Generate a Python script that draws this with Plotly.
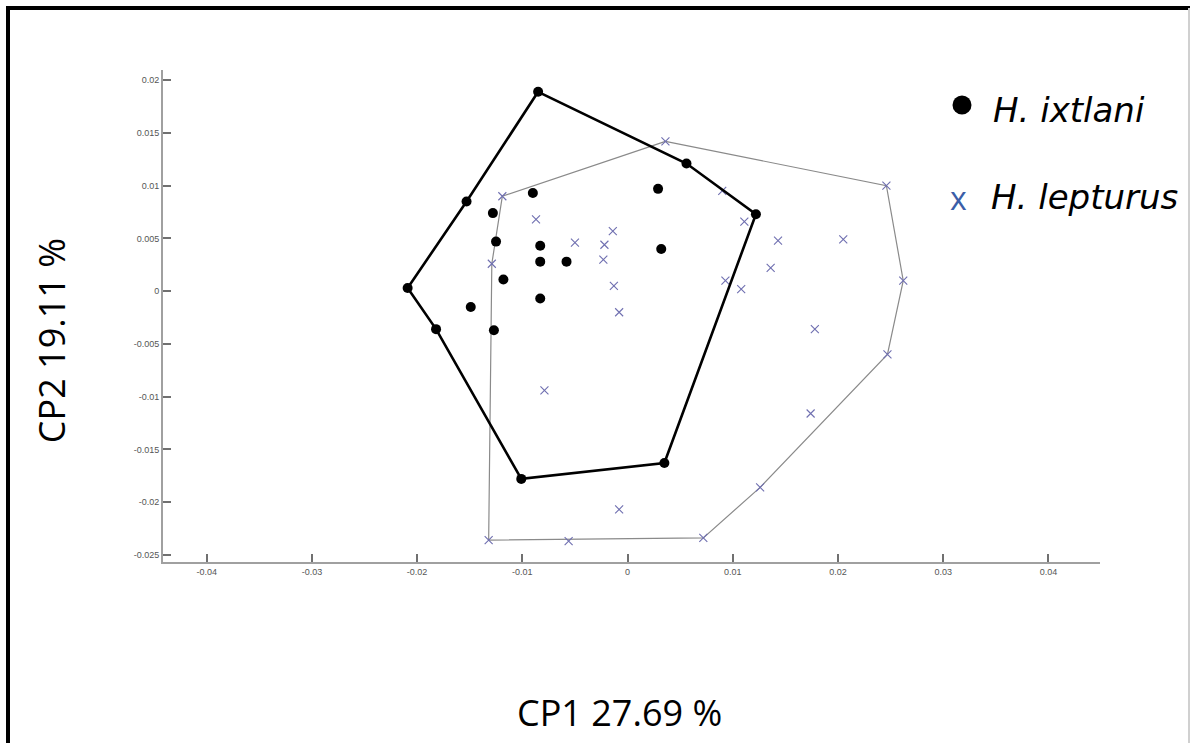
import plotly.graph_objects as go

# H. ixtlani points (CP1, CP2)
ixt_x = [-0.0085, 0.0056, 0.0122, -0.0153, -0.0209, -0.0182, -0.0101, 0.0035,
         -0.0090, 0.0029, -0.0128, -0.0125, -0.0083, -0.0083, -0.0058, 0.0032,
         -0.0118, -0.0083, -0.0149, -0.0127]
ixt_y = [0.0189, 0.0121, 0.0073, 0.0085, 0.0003, -0.0036, -0.0178, -0.0163,
         0.0093, 0.0097, 0.0074, 0.0047, 0.0043, 0.0028, 0.0028, 0.0040,
         0.0011, -0.0007, -0.0015, -0.0037]
# convex hull of H. ixtlani
ixt_hull_x = [-0.0085, 0.0056, 0.0122, 0.0035, -0.0101, -0.0182, -0.0209, -0.0153, -0.0085]
ixt_hull_y = [0.0189, 0.0121, 0.0073, -0.0163, -0.0178, -0.0036, 0.0003, 0.0085, 0.0189]

# H. lepturus points
lep_x = [0.0036, -0.0119, -0.0087, -0.0014, -0.0050, -0.0022, -0.0023, -0.0129,
         -0.0013, -0.0008, 0.0246, 0.0090, 0.0111, 0.0143, 0.0205, 0.0136,
         0.0093, 0.0108, 0.0262, 0.0178, 0.0247, 0.0174, 0.0126, 0.0072,
         -0.0079, -0.0008, -0.0132, -0.0056]
lep_y = [0.0142, 0.0090, 0.0068, 0.0057, 0.0046, 0.0044, 0.0030, 0.0026,
         0.0005, -0.0020, 0.0100, 0.0095, 0.0066, 0.0048, 0.0049, 0.0022,
         0.0010, 0.0002, 0.0010, -0.0036, -0.0060, -0.0116, -0.0186, -0.0234,
         -0.0094, -0.0207, -0.0236, -0.0237]
# convex hull of H. lepturus
lep_hull_x = [0.0036, 0.0246, 0.0262, 0.0247, 0.0126, 0.0072, -0.0132, -0.0129, -0.0119, 0.0036]
lep_hull_y = [0.0142, 0.0100, 0.0010, -0.0060, -0.0186, -0.0234, -0.0236, 0.0026, 0.0090, 0.0142]

x_ticks = [-0.04, -0.03, -0.02, -0.01, 0, 0.01, 0.02, 0.03, 0.04]
x_labels = ["-0.04", "-0.03", "-0.02", "-0.01", "0", "0.01", "0.02", "0.03", "0.04"]
y_ticks = [-0.025, -0.02, -0.015, -0.01, -0.005, 0, 0.005, 0.01, 0.015, 0.02]
y_labels = ["-0.025", "-0.02", "-0.015", "-0.01", "-0.005", "0", "0.005", "0.01", "0.015", "0.02"]

series_names = ["H. ixtlani", "H. lepturus"]
x_title = "CP1 27.69 %"
y_title = "CP2 19.11 %"

fig = go.Figure()
fig.add_trace(go.Scatter(x=lep_hull_x, y=lep_hull_y, mode="lines",
                         line=dict(color="#8a8a8a", width=1.2), showlegend=False, hoverinfo="skip"))
fig.add_trace(go.Scatter(x=lep_x, y=lep_y, mode="markers", name=series_names[1],
                         marker=dict(symbol="x-thin", size=8, line=dict(color="#6f6fb0", width=1.1)),
                         showlegend=False))
fig.add_trace(go.Scatter(x=ixt_hull_x, y=ixt_hull_y, mode="lines",
                         line=dict(color="black", width=2.6), showlegend=False, hoverinfo="skip"))
fig.add_trace(go.Scatter(x=ixt_x, y=ixt_y, mode="markers", name=series_names[0],
                         marker=dict(symbol="circle", size=10, color="black"),
                         showlegend=False))

axis_common = dict(showgrid=False, zeroline=False, showline=True, linecolor="#a0a0a0",
                   linewidth=2, ticks="inside", ticklen=8, tickwidth=1.5, tickcolor="#707070",
                   tickfont=dict(family="Liberation Sans, Arial", size=9, color="#555555"))

fig.update_layout(
    width=1190, height=743,
    paper_bgcolor="white", plot_bgcolor="white",
    margin=dict(l=163, r=90, t=70, b=181),
    xaxis=dict(range=[-0.04415, 0.0449], tickvals=x_ticks, ticktext=x_labels, **axis_common),
    yaxis=dict(range=[-0.02568, 0.02097], tickvals=y_ticks, ticktext=y_labels, **axis_common),
    showlegend=False,
)

title_font = dict(family="Open Sans", size=36, color="black")
fig.add_annotation(text=x_title, xref="paper", yref="paper", x=(619 - 163) / 937,
                   y=(561.7 - 712) / 491.7, xanchor="center", yanchor="middle",
                   showarrow=False, font=title_font)
fig.add_annotation(text=y_title, xref="paper", yref="paper", x=(51 - 163) / 937,
                   y=(561.7 - 341) / 491.7, xanchor="center", yanchor="middle",
                   textangle=-90, showarrow=False, font=title_font)

legend_font = dict(family="DejaVu Sans", size=34, color="black")
fig.add_annotation(text="<i>" + series_names[0] + "</i>", xref="paper", yref="paper",
                   x=(991 - 163) / 937, y=(561.7 - 110) / 491.7, xanchor="left", yanchor="middle",
                   showarrow=False, font=legend_font)
fig.add_annotation(text="<i>" + series_names[1] + "</i>", xref="paper", yref="paper",
                   x=(989 - 163) / 937, y=(561.7 - 197) / 491.7, xanchor="left", yanchor="middle",
                   showarrow=False, font=legend_font)
fig.add_annotation(text="x", xref="paper", yref="paper",
                   x=(958 - 163) / 937, y=(561.7 - 197) / 491.7, xanchor="center", yanchor="middle",
                   showarrow=False, font=dict(family="Open Sans", size=32, color="#3b5ea8"))
fig.add_shape(type="circle", xref="paper", yref="paper",
              x0=(952.5 - 163) / 937, x1=(971.5 - 163) / 937,
              y0=(561.7 - 114.5) / 491.7, y1=(561.7 - 95.5) / 491.7,
              fillcolor="black", line=dict(width=0))

# page frame
fig.add_shape(type="line", xref="paper", yref="paper",
              x0=(8 - 163) / 937, x1=(8 - 163) / 937, y0=(561.7 - 8) / 491.7, y1=(561.7 - 743) / 491.7,
              line=dict(color="black", width=4))
fig.add_shape(type="line", xref="paper", yref="paper",
              x0=(6 - 163) / 937, x1=(1190 - 163) / 937, y0=(561.7 - 8) / 491.7, y1=(561.7 - 8) / 491.7,
              line=dict(color="black", width=4))
fig.add_shape(type="line", xref="paper", yref="paper",
              x0=(1189 - 163) / 937, x1=(1189 - 163) / 937, y0=(561.7 - 8) / 491.7, y1=(561.7 - 743) / 491.7,
              line=dict(color="#d0d0d0", width=2))

fig.write_html("out.html")
